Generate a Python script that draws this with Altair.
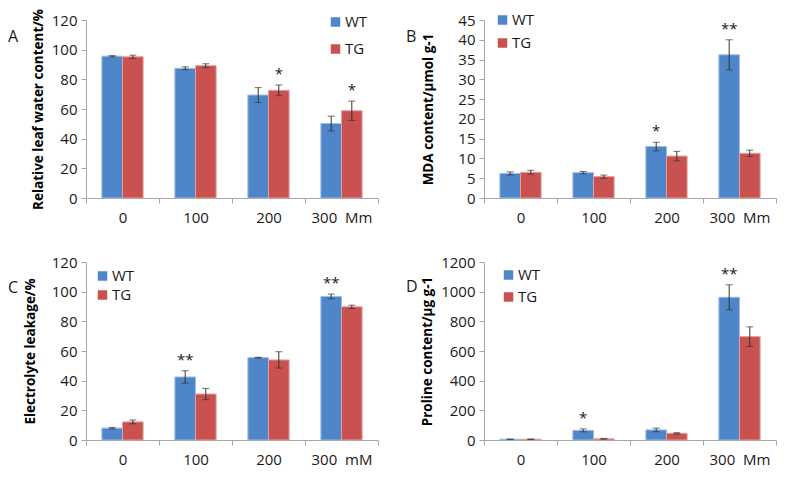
import altair as alt
import pandas as pd

series = ["WT", "TG"]
colors = ["#4F86C9", "#C9514F"]
edge_colors = ["#9CBCE4", "#E3A09E"]

# Panel A
cats_a = ["0", "100", "200", "300\u00a0\u00a0Mm"]
a_wt = [95.6, 87.4, 69.4, 50.2]
a_wt_err = [0.4, 1.0, 5.0, 5.0]
a_tg = [95.2, 89.2, 72.6, 58.8]
a_tg_err = [1.1, 1.3, 3.6, 6.5]
a_star_series = ["TG", "TG"]
a_star_cat = [2, 3]
a_star_text = ["*", "*"]

# Panel B
cats_b = ["0", "100", "200", "300\u00a0\u00a0Mm"]
b_wt = [6.2, 6.4, 13.0, 36.2]
b_wt_err = [0.4, 0.3, 1.1, 3.8]
b_tg = [6.5, 5.4, 10.6, 11.3]
b_tg_err = [0.5, 0.4, 1.2, 0.8]
b_star_series = ["WT", "WT"]
b_star_cat = [2, 3]
b_star_text = ["*", "**"]

# Panel C
cats_c = ["0", "100", "200", "300\u00a0\u00a0mM"]
c_wt = [8.0, 42.5, 55.5, 96.8]
c_wt_err = [0.5, 4.2, 0.3, 1.6]
c_tg = [12.2, 31.0, 54.0, 89.8]
c_tg_err = [1.3, 3.8, 5.5, 1.1]
c_star_series = ["WT", "WT"]
c_star_cat = [1, 3]
c_star_text = ["**", "**"]

# Panel D
cats_d = ["0", "100", "200", "300\u00a0\u00a0Mm"]
d_wt = [5, 65, 68, 962]
d_wt_err = [2, 10, 12, 84]
d_tg = [5, 8, 45, 697]
d_tg_err = [2, 3, 4, 66]
d_star_series = ["WT", "WT"]
d_star_cat = [1, 3]
d_star_text = ["*", "**"]

W, H = 292, 178
AXIS_GREY = "#A6A6A6"
TEXT = "#1a1a1a"


def panel(cats, wt, wte, tg, tge, s_ser, s_cat, s_txt, ymax, ystep, ytitle,
          letter, letter_y, leg_x, leg_y, leg_gap, title_x):
    rows = []
    for i, c in enumerate(cats):
        rows.append({"cat": c, "series": "WT", "value": wt[i], "lo": wt[i] - wte[i], "hi": wt[i] + wte[i]})
        rows.append({"cat": c, "series": "TG", "value": tg[i], "lo": tg[i] - tge[i], "hi": tg[i] + tge[i]})
    df = pd.DataFrame(rows)
    star_rows = []
    for s, ci, t in zip(s_ser, s_cat, s_txt):
        v = wt[ci] + wte[ci] if s == "WT" else tg[ci] + tge[ci]
        star_rows.append({"cat": cats[ci], "series": s, "top": v, "txt": t})
    sdf = pd.DataFrame(star_rows)

    xaxis = alt.Axis(title=None, labelAngle=0, tickBand="extent", tickSize=5,
                     labelPadding=7, domainColor=AXIS_GREY, tickColor=AXIS_GREY)
    x = alt.X("cat:N", sort=cats,
              scale=alt.Scale(domain=cats, paddingInner=0, paddingOuter=0), axis=xaxis)
    xo = alt.XOffset("series:N", sort=series,
                     scale=alt.Scale(domain=series, paddingOuter=0.77, paddingInner=0))
    yscale = alt.Scale(domain=[0, ymax])
    yaxis = alt.Axis(title=ytitle, values=list(range(0, ymax + 1, ystep)), grid=False,
                     format="d", labelOverlap=False,
                     tickSize=5, labelPadding=4, domainColor=AXIS_GREY, tickColor=AXIS_GREY,
                     titleX=title_x, titleY=H / 2, titleAngle=270, titleAlign="center",
                     titleBaseline="middle", titleFontWeight="bold", titleFontSize=13.5)

    def Y(field):
        return alt.Y(field, scale=yscale, axis=yaxis, title=ytitle)

    bars = alt.Chart(df).mark_bar(strokeWidth=1).encode(
        x=x, xOffset=xo, y=Y("value:Q"),
        color=alt.Color("series:N", sort=series,
                        scale=alt.Scale(domain=series, range=colors), legend=None),
        stroke=alt.Stroke("series:N", scale=alt.Scale(domain=series, range=edge_colors), legend=None),
    )
    rules = alt.Chart(df).mark_rule(color="#333333", strokeWidth=1).encode(
        x=x, xOffset=xo, y=Y("lo:Q"), y2="hi:Q")
    cap_lo = alt.Chart(df).mark_tick(color="#333333", thickness=1, size=7).encode(
        x=x, xOffset=xo, y=Y("lo:Q"))
    cap_hi = alt.Chart(df).mark_tick(color="#333333", thickness=1, size=7).encode(
        x=x, xOffset=xo, y=Y("hi:Q"))
    stars = alt.Chart(sdf).mark_text(fontSize=15, baseline="alphabetic", dy=-6, color=TEXT).encode(
        x=x, xOffset=xo, y=Y("top:Q"), text="txt:N")
    let = alt.Chart(pd.DataFrame({"t": [letter]})).mark_text(
        align="left", baseline="middle", fontSize=16, color=TEXT).encode(
        text="t:N", x=alt.value(-78), y=alt.value(letter_y))
    layers = [bars, rules, cap_lo, cap_hi, stars, let]
    # legend (swatch + label per series)
    for i, (s, col) in enumerate(zip(series, colors)):
        ldf = pd.DataFrame({"s": [s]})
        layers.append(alt.Chart(ldf).mark_square(size=90, opacity=1, color=col).encode(
            x=alt.value(leg_x + 4.5), y=alt.value(leg_y + i * leg_gap)))
        layers.append(alt.Chart(ldf).mark_text(align="left", baseline="middle", fontSize=15, color=TEXT).encode(
            text="s:N", x=alt.value(leg_x + 14), y=alt.value(leg_y + i * leg_gap)))
    return alt.layer(*layers).properties(width=W, height=H)


pa = panel(cats_a, a_wt, a_wt_err, a_tg, a_tg_err, a_star_series, a_star_cat, a_star_text,
           120, 20, "Relative leaf water content/%", "A", 17, 245, 2, 27, -48)
pb = panel(cats_b, b_wt, b_wt_err, b_tg, b_tg_err, b_star_series, b_star_cat, b_star_text,
           45, 5, "MDA content/\u03bcmol g-1", "B", 17, 14, 0, 23, -56)
pc = panel(cats_c, c_wt, c_wt_err, c_tg, c_tg_err, c_star_series, c_star_cat, c_star_text,
           120, 20, "Electrolyte leakage/%", "C", 26, 12, 14, 19, -56)
pd_ = panel(cats_d, d_wt, d_wt_err, d_tg, d_tg_err, d_star_series, d_star_cat, d_star_text,
            1200, 200, "Proline content/\u03bcg g-1", "D", 25, 20, 13, 22, -57)

chart = alt.concat(pa, pb, pc, pd_, columns=2, spacing={"row": 64, "column": 106}, bounds="flush") \
    .resolve_scale(x="independent", y="independent", color="independent", stroke="independent") \
    .properties(padding={"left": 0, "top": 0, "right": 0, "bottom": 4}) \
    .configure(font="Open Sans") \
    .configure_view(stroke=None) \
    .configure_axis(labelFontSize=15, labelColor=TEXT, titleColor="#000000")

chart.save("out.html", embed_options={"renderer": "svg", "actions": False})
